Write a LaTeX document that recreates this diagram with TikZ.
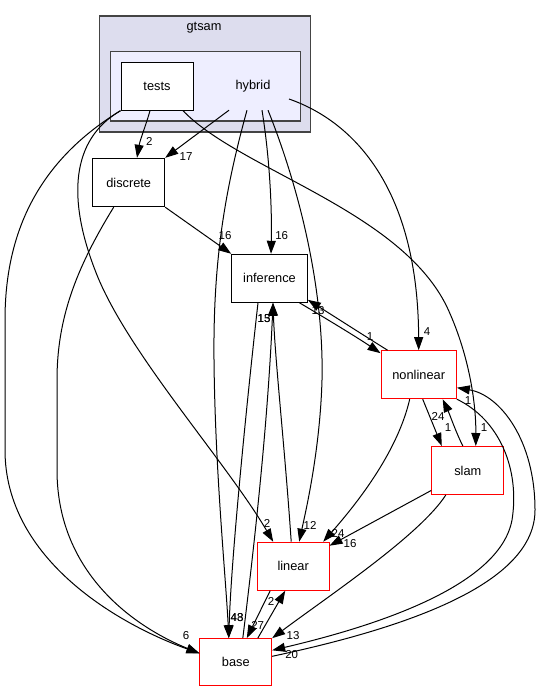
\documentclass[tikz,border=0pt]{standalone}
\usepackage{fontspec}
\setmainfont{Liberation Sans}
\usetikzlibrary{arrows.meta,calc}
\definecolor{gtsamfill}{HTML}{DDDDEE}
\definecolor{hybridfill}{HTML}{EEEEFF}
\definecolor{clusterline}{HTML}{444444}
\begin{document}
\begin{tikzpicture}[x=1pt,y=-1pt,
  nodefont/.style={font=\fontsize{12.8}{14}\selectfont},
  box/.style={draw=black, fill=white, line width=1pt, minimum width=72pt, minimum height=48pt, inner sep=0pt, nodefont},
  redbox/.style={box, draw=red},
  cluster/.style={draw=clusterline, line width=1.3pt, inner sep=0pt},
  lbl/.style={font=\fontsize{11.5}{12}\selectfont, inner sep=0pt},
  dep/.style={line width=1pt, -{Triangle[length=13pt,width=9pt]}},
]
\useasboundingbox (0,0) rectangle (541,692);
% clusters
\node[cluster, fill=gtsamfill, minimum width=211.4pt, minimum height=116pt] (gtsamc) at (205,74) {};
\node[nodefont, inner sep=0pt] (gtsamlbl) at (204,28) {gtsam};
\node[cluster, fill=hybridfill, minimum width=189.6pt, minimum height=69.3pt] (hybridc) at (205.5,86.35) {};
\node[nodefont, inner sep=0pt, minimum width=96pt, minimum height=48pt] (hybrid) at (253,86) {hybrid};
\node[box] (tests) at (157,86.2) {tests};
% nodes
\node[box, minimum height=48.4pt] (discrete) at (128.7,182.5) {discrete};
\node[box, minimum width=75.6pt] (inference) at (269.5,278.3) {inference};
\node[redbox, minimum width=75.3pt] (nonlinear) at (418.7,374.7) {nonlinear};
\node[redbox, minimum width=72.3pt] (slam) at (467.8,470.5) {slam};
\node[redbox, minimum width=71.7pt] (linear) at (293.2,566.2) {linear};
\node[redbox, minimum width=71.7pt, minimum height=47.3pt] (base) at (235.8,662.3) {base};
% edges
\draw[dep] ($(tests.south)+(-7,0)$) .. controls (146,125) and (140,140) .. ($(discrete.north)+(8.3,0)$) node[lbl, at={(149.3,141.7)}] {2};
\draw[dep] ($(hybrid.south)+(-24,0)$) -- (discrete.north east) node[lbl, at={(186,157)}] {17};
\draw[dep] ($(hybrid.south)+(9,0)$) .. controls (270,160) and (272,210) .. ($(inference.north)+(1.5,0)$) node[lbl, at={(281.7,236)}] {16};
\draw[dep] (discrete.south east) -- (inference.north west) node[lbl, at={(225,236)}] {16};
\draw[dep] ($(hybrid.south)+(-6,0)$) .. controls (225,190) and (213,260) .. (214,360) .. controls (215,470) and (226,580) .. ($(base.north)+(-7,0)$) node[lbl, at={(237,618)}] {43};
\draw[dep] ($(inference.south)+(-11.5,0)$) .. controls (247,400) and (231,560) .. ($(base.north)+(-7,0)$) node[lbl, at={(237,618)}] {48};
\draw[dep] ($(linear.north)+(-2,0)$) .. controls (285,450) and (275,360) .. ($(inference.south)+(3.5,0)$) node[lbl, at={(264,319)}] {15};
\draw[dep] ($(base.north)+(7,0)$) .. controls (255,540) and (268,420) .. ($(inference.south)+(3.5,0)$) node[lbl, at={(264,319)}] {13};
\draw[dep] ($(linear.south)+(-23,0)$) -- ($(base.north)+(11,0)$) node[lbl, at={(257.7,625)}] {27};
\draw[dep] ($(base.north)+(22,0)$) -- ($(linear.south)+(-8,0)$) node[lbl, at={(271,601)}] {2};
\draw[dep] ($(inference.south)+(30,0)$) .. controls (325,318) and (355,336) .. ($(nonlinear.north west)+(0,3)$) node[lbl, at={(370,337)}] {1};
\draw[dep] ($(nonlinear.north west)+(7,0)$) .. controls (360,333) and (332,315) .. ($(inference.south east)+(0,-3)$) node[lbl, at={(318,311)}] {13};
\draw[dep] ($(nonlinear.south)+(-9,0)$) .. controls (398,450) and (360,500) .. ($(linear.north)+(30,0)$) node[lbl, at={(338,533)}] {24};
\draw[dep] ($(slam.west)+(0,20)$) -- ($(linear.north east)+(0,4)$) node[lbl, at={(350,544)}] {16};
\draw[dep] ($(slam.south)+(-22,0)$) .. controls (420,535) and (330,595) .. (base.north east) node[lbl, at={(293,636)}] {13};
\draw[dep] ($(nonlinear.south)+(4,0)$) -- ($(slam.north)+(-26,0)$) node[lbl, at={(448,428)}] {1};
\draw[dep] ($(slam.north)+(-5,0)$) .. controls (455,430) and (450,415) .. ($(nonlinear.south)+(24,0)$) node[lbl, at={(438,416)}] {24};
\draw[dep] (nonlinear.south east) .. controls (500,420) and (520,470) .. (512,520) .. controls (500,585) and (380,625) .. ($(base.east)+(0,-12)$) node[lbl, at={(291.7,654.3)}] {20};
\draw[dep] ($(base.east)+(0,-6)$) .. controls (420,625) and (535,580) .. (535,510) .. controls (535,440) and (500,395) .. ($(nonlinear.east)+(0,13)$) node[lbl, at={(468,401)}] {1};
\draw[dep] ($(tests.south)+(26,0)$) .. controls (240,170) and (400,210) .. (447,307) .. controls (468,352) and (476,400) .. ($(slam.north)+(8,0)$) node[lbl, at={(484,428)}] {1};
\draw[dep] ($(hybrid.center)+(36,13)$) .. controls (355,122) and (418,190) .. (nonlinear.north) node[lbl, at={(427,332)}] {4};
\draw[dep] ($(hybrid.south)+(15,0)$) .. controls (300,190) and (324,290) .. (322,380) .. controls (320,450) and (306,510) .. ($(linear.north)+(6,0)$) node[lbl, at={(310,525)}] {12};
\draw[dep] (tests.south west) .. controls (70,140) and (68,200) .. (95,270) .. controls (125,350) and (225,460) .. ($(linear.north)+(-20,0)$) node[lbl, at={(267,523)}] {2};
\draw[dep] (tests.south west) .. controls (40,160) and (5,230) .. (5,320) -- (5,450) .. controls (5,560) and (120,625) .. ($(base.west)+(0,-9)$) node[lbl, at={(186,636)}] {6};
\draw[dep] ($(discrete.south)+(-15,0)$) .. controls (75,270) and (57,320) .. (57,380) -- (57,470) .. controls (57,570) and (130,625) .. ($(base.west)+(0,-9)$);
\end{tikzpicture}
\end{document}
